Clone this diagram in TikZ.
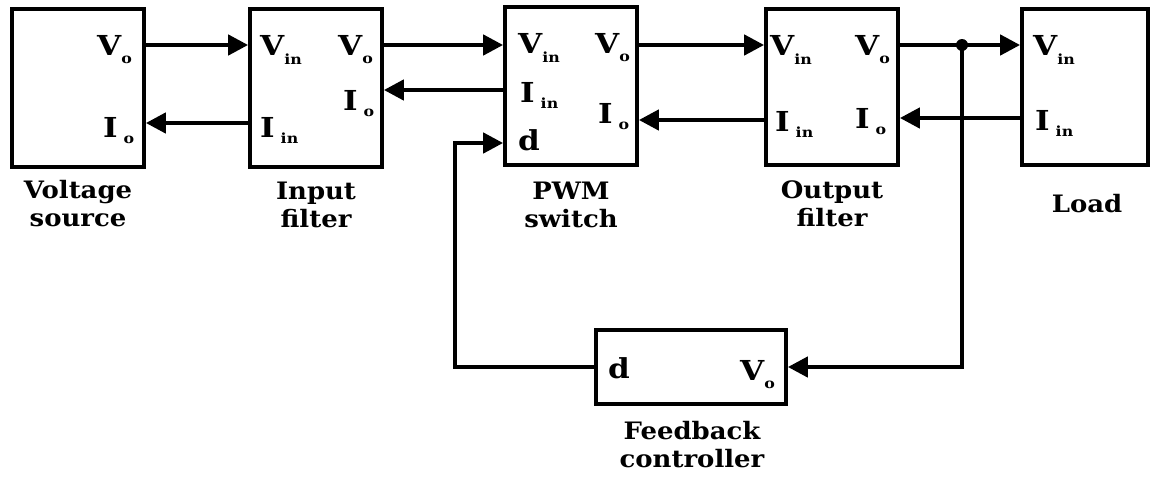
\documentclass[tikz,border=0pt]{standalone}
\usepackage{fontspec}
\setmainfont{DejaVu Serif}
\newfontfamily\capfont[FakeStretch=1.08]{DejaVu Serif}
\newfontfamily\portfont[FakeStretch=1.13]{DejaVu Serif}
\usetikzlibrary{arrows.meta}
\newcommand\subf{\fontsize{14}{14}\selectfont}
\newcommand\Pvo{V\raisebox{-8pt}{\subf o}}
\newcommand\Pvin{V\raisebox{-9pt}{\subf in}}
\newcommand\Pio{I\hspace{6pt}\raisebox{-6pt}{\subf o}}
\newcommand\Piin{I\hspace{6pt}\raisebox{-6pt}{\subf in}}
\begin{document}
\begin{tikzpicture}[x=1pt,y=-1pt,
  box/.style={draw,line width=3.7pt,inner sep=0,minimum width=132pt,minimum height=158pt},
  conn/.style={line width=4.4pt},
  arr/.style={conn,-{Triangle[length=20pt,width=20pt]}},
  port/.style={inner sep=0,anchor=base west,font=\portfont\fontsize{27.5}{27.5}\selectfont\bfseries},
  captxt/.style={inner sep=0,align=center,anchor=base,font=\capfont\fontsize{24}{28}\selectfont\bfseries}]
\useasboundingbox (0,0) rectangle (1151,482);
% boxes
\node[box] (vs) at (78,88) {};
\node[box] (if) at (316,88) {};
\node[box] (pwm) at (571,86) {};
\node[box,minimum height=156pt] (of) at (832,87) {};
\node[box,minimum width=126pt,minimum height=156pt] (ld) at (1085,87) {};
\node[box,minimum width=190pt,minimum height=74pt] (fb) at (691,367) {};
% captions
\node[captxt] (vsc) at (78,226) {Voltage\\source};
\node[captxt] (ifc) at (316,227) {Input\\filter};
\node[captxt] (pwmc) at (571,227) {PWM\\switch};
\node[captxt] (ofc) at (832,226) {Output\\filter};
\node[captxt] (ldc) at (1087,212) {Load};
\node[captxt] (fbc) at (692,467) {Feedback\\controller};
% port labels
\node[port] (vsvo) at (97,55) {\Pvo};
\node[port] (vsio) at (103,137) {\Pio};
\node[port] (ifvin) at (260,55) {\Pvin};
\node[port] (ifiin) at (260,137) {\Piin};
\node[port] (ifvo) at (338,55) {\Pvo};
\node[port] (ifio) at (343,110) {\Pio};
\node[port] (pwmvin) at (518,53) {\Pvin};
\node[port] (pwmvo) at (595,53) {\Pvo};
\node[port] (pwmiin) at (520,102) {\Piin};
\node[port] (pwmio) at (598,123) {\Pio};
\node[port] (pwmd) at (518,150) {d};
\node[port] (ofvin) at (770,55) {\Pvin};
\node[port] (ofvo) at (855,55) {\Pvo};
\node[port] (ofiin) at (775,131) {\Piin};
\node[port] (ofio) at (855,128) {\Pio};
\node[port] (ldvin) at (1033,55) {\Pvin};
\node[port] (ldiin) at (1035,130) {\Piin};
\node[port] (fbd) at (608,378) {d};
\node[port] (fbvo) at (740,380) {\Pvo};
% connectors
\draw[arr] (vs.east |- 0,45) -- (if.west |- 0,45);
\draw[arr] (if.west |- 0,123) -- (vs.east |- 0,123);
\draw[arr] (if.east |- 0,45) -- (pwm.west |- 0,45);
\draw[arr] (pwm.west |- 0,90) -- (if.east |- 0,90);
\draw[arr] (pwm.east |- 0,45) -- (of.west |- 0,45);
\draw[arr] (of.west |- 0,120) -- (pwm.east |- 0,120);
\draw[arr] (of.east |- 0,45) -- (ld.west |- 0,45);
\draw[arr] (ld.west |- 0,118) -- (of.east |- 0,118);
\coordinate (j) at (962,45);
\fill (j) circle (6pt);
\draw[arr] (j) -- (j |- fb.east) -- (fb.east);
\coordinate (dc) at (455,143);
\draw[arr] (fb.west) -| (dc) -- (pwm.west |- dc);
\end{tikzpicture}
\end{document}
